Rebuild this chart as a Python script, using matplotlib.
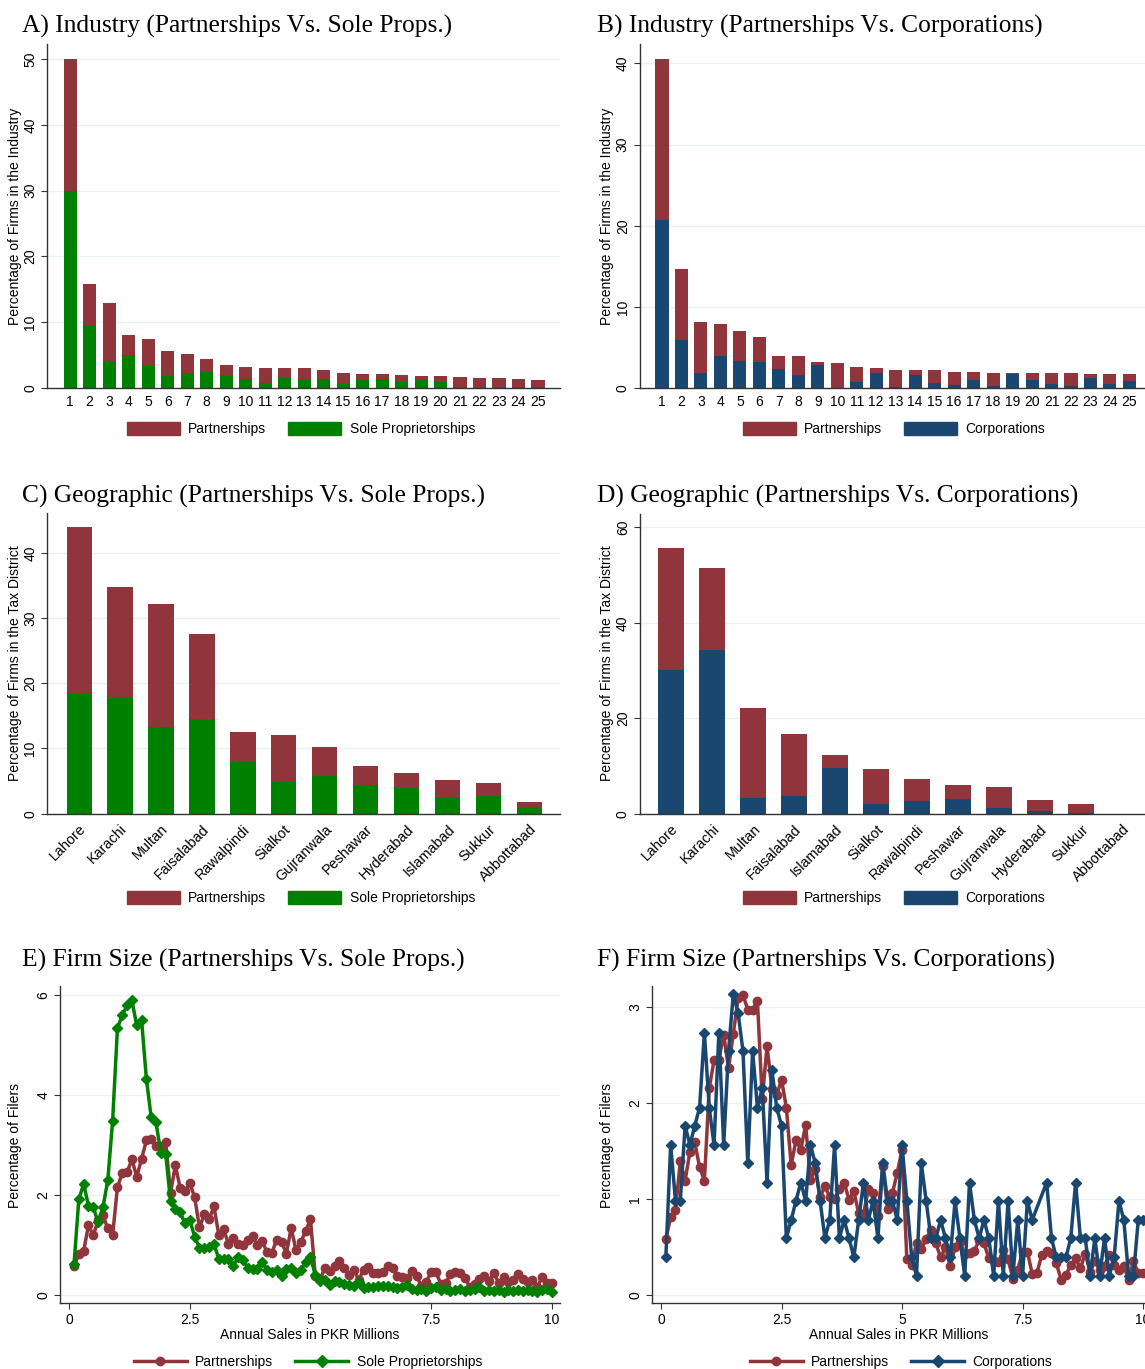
import numpy as np
import matplotlib
matplotlib.use("Agg")
import matplotlib.pyplot as plt
from matplotlib.patches import Patch
from matplotlib.lines import Line2D

plt.rcParams['font.family'] = ['Liberation Sans', 'DejaVu Sans']
plt.rcParams['font.size'] = 10

RED = '#90353B'
GREEN = '#008000'
NAVY = '#1A476F'
GRID = '#EAF2F3'
AXC = '#333333'

# industry shares (industries ranked 1..25)
industries = [str(i) for i in range(1, 26)]
sole_ind = [30.0, 9.5, 4.0, 5.06, 3.54, 1.92, 2.23, 2.43, 1.92, 1.42, 0.71, 1.52, 1.27,
            1.42, 0.71, 1.16, 1.42, 0.91, 1.16, 0.86, 0.05, 0.05, 0.2, 0.15, 0.1]
part_ind_a = [20.0, 6.3, 8.9, 3.0, 3.9, 3.7, 3.0, 2.03, 1.62, 1.77, 2.38, 1.57, 1.82,
              1.31, 1.57, 1.02, 0.71, 1.12, 0.71, 0.91, 1.57, 1.47, 1.32, 1.27, 1.17]
corp_ind = [20.7, 5.95, 1.85, 4.02, 3.36, 3.28, 2.42, 1.64, 2.87, 0.08, 0.82, 1.93, 0.16,
            1.6, 0.62, 0.41, 1.07, 0.33, 1.76, 0.98, 0.53, 0.29, 1.23, 0.57, 0.94]
part_ind_b = [19.9, 8.75, 6.31, 3.86, 3.7, 3.04, 1.6, 2.34, 0.37, 3.04, 1.81, 0.57, 2.1,
              0.66, 1.6, 1.64, 0.9, 1.6, 0.17, 0.95, 1.4, 1.64, 0.57, 1.23, 0.78]

# tax district shares
districts_c = ['Lahore', 'Karachi', 'Multan', 'Faisalabad', 'Rawalpindi', 'Sialkot',
               'Gujranwala', 'Peshawar', 'Hyderabad', 'Islamabad', 'Sukkur', 'Abbottabad']
sole_dist = [18.55, 17.83, 13.3, 14.5, 7.9, 4.9, 5.8, 4.45, 4.0, 2.45, 2.76, 0.92]
part_dist_c = [25.45, 16.97, 18.8, 13.1, 4.7, 7.1, 4.5, 2.85, 2.3, 2.65, 2.0, 0.88]
districts_d = ['Lahore', 'Karachi', 'Multan', 'Faisalabad', 'Islamabad', 'Sialkot',
               'Rawalpindi', 'Peshawar', 'Gujranwala', 'Hyderabad', 'Sukkur', 'Abbottabad']
corp_dist = [30.1, 34.4, 3.36, 3.7, 9.65, 2.1, 2.6, 3.08, 1.26, 0.63, 0.14, 0.0]
part_dist_d = [25.5, 17.1, 18.7, 13.1, 2.65, 7.2, 4.67, 2.86, 4.4, 2.24, 1.96, 0.0]

# firm size distribution, sales bins of 0.1m PKR
sales = np.round(np.arange(1, 101) * 0.1, 1)
part_size = [0.58, 0.81, 0.88, 1.39, 1.19, 1.49, 1.59, 1.33, 1.19, 2.15,
             2.44, 2.45, 2.71, 2.36, 2.72, 3.09, 3.12, 2.97, 2.97, 3.06,
             2.04, 2.59, 2.14, 2.08, 2.24, 1.95, 1.35, 1.61, 1.51, 1.77,
             1.2, 1.31, 1.02, 1.13, 1.02, 1.0, 1.1, 1.17, 0.99, 1.08,
             0.85, 0.84, 1.1, 1.06, 0.82, 1.34, 0.89, 1.06, 1.27, 1.51,
             0.37, 0.31, 0.54, 0.48, 0.58, 0.68, 0.54, 0.39, 0.5, 0.3,
             0.5, 0.55, 0.43, 0.44, 0.46, 0.57, 0.54, 0.38, 0.35, 0.34,
             0.47, 0.37, 0.17, 0.26, 0.45, 0.45, 0.22, 0.23, 0.42, 0.46,
             0.44, 0.33, 0.16, 0.21, 0.31, 0.38, 0.28, 0.43, 0.24, 0.35,
             0.26, 0.3, 0.42, 0.31, 0.26, 0.3, 0.16, 0.35, 0.23, 0.23]
sole_size = [0.61, 1.91, 2.22, 1.78, 1.75, 1.45, 1.75, 2.29, 3.48, 5.33,
             5.6, 5.79, 5.89, 5.39, 5.5, 4.32, 3.55, 3.45, 2.83, 2.82,
             1.88, 1.72, 1.65, 1.43, 1.5, 1.16, 0.94, 0.94, 0.96, 1.02,
             0.72, 0.72, 0.71, 0.58, 0.75, 0.7, 0.54, 0.51, 0.52, 0.66,
             0.49, 0.45, 0.49, 0.38, 0.52, 0.53, 0.44, 0.5, 0.65, 0.76,
             0.39, 0.27, 0.29, 0.2, 0.28, 0.26, 0.22, 0.2, 0.18, 0.25,
             0.14, 0.16, 0.15, 0.18, 0.17, 0.17, 0.15, 0.13, 0.15, 0.2,
             0.12, 0.1, 0.12, 0.08, 0.13, 0.15, 0.1, 0.12, 0.08, 0.1,
             0.12, 0.07, 0.1, 0.12, 0.15, 0.08, 0.1, 0.07, 0.1, 0.05,
             0.1, 0.08, 0.1, 0.07, 0.1, 0.08, 0.05, 0.1, 0.12, 0.06]
corp_size = [0.39, 1.56, 0.98, 0.98, 1.76, 1.56, 1.76, 1.95, 2.73, 1.95,
             1.56, 2.73, 1.56, 2.54, 3.13, 2.93, 2.54, 1.37, 2.54, 1.95,
             2.15, 1.17, 2.34, 1.95, 1.76, 0.59, 0.78, 0.98, 1.17, 0.98,
             1.56, 1.37, 0.98, 0.59, 0.78, 1.56, 0.59, 0.78, 0.59, 0.39,
             0.78, 1.17, 0.78, 0.98, 0.59, 1.37, 0.98, 0.98, 0.78, 1.56,
             0.98, 0.39, 0.2, 1.37, 0.98, 0.59, 0.59, 0.78, 0.59, 0.39,
             0.98, 0.59, 0.2, 1.17, 0.78, 0.59, 0.78, 0.59, 0.2, 0.98,
             0.2, 0.98, 0.2, 0.78, 0.2, 0.98, 0.78, None, None, 1.17,
             0.59, 0.39, 0.39, 0.39, 0.59, 1.17, 0.59, 0.59, 0.2, 0.59,
             0.2, 0.59, 0.2, 0.39, 0.98, 0.78, 0.2, 0.2, 0.78, 0.78]

W, H = 1145, 1369
fig = plt.figure(figsize=(W / 100, H / 100), dpi=100)


def px_axes(x0, y0, x1, y1):
    return fig.add_axes([x0 / W, 1 - y1 / H, (x1 - x0) / W, (y1 - y0) / H])


def style(ax, yticks, ylim, xlim):
    ax.set_ylim(*ylim)
    ax.set_xlim(*xlim)
    ax.set_yticks(yticks)
    ax.set_yticklabels([str(t) for t in yticks], rotation=90, va='center')
    for s in ['top', 'right']:
        ax.spines[s].set_visible(False)
    for s in ['left', 'bottom']:
        ax.spines[s].set_color(AXC)
        ax.spines[s].set_linewidth(1.0)
    ax.tick_params(axis='y', length=4, color=AXC, pad=3, labelsize=10)
    ax.grid(axis='y', color=GRID, linewidth=1.0)
    ax.set_axisbelow(True)


def title(x, y, s):
    fig.text(x / W, 1 - y / H, s, family='Liberation Serif', fontsize=18.4,
             ha='left', va='center')


def ylab(x, y, s):
    fig.text(x / W, 1 - y / H, s, rotation=90, ha='center', va='center', fontsize=10)


def bar_legend(ax, cx, cy, other_color, other_name):
    handles = [Patch(facecolor=RED, edgecolor=RED), Patch(facecolor=other_color, edgecolor=other_color)]
    ax.legend(handles, ['Partnerships', other_name], loc='center', ncol=2,
              bbox_to_anchor=(cx / W, 1 - cy / H), bbox_transform=fig.transFigure,
              frameon=False, handlelength=3.8, handleheight=1.1, handletextpad=0.6,
              columnspacing=1.6, fontsize=10)


def line_legend(ax, cx, cy, other_color, other_name):
    handles = [Line2D([], [], color=RED, lw=2.5, marker='o', ms=6),
               Line2D([], [], color=other_color, lw=2.5, marker='D', ms=6)]
    ax.legend(handles, ['Partnerships', other_name], loc='center', ncol=2,
              bbox_to_anchor=(cx / W, 1 - cy / H), bbox_transform=fig.transFigure,
              frameon=False, handlelength=3.8, handletextpad=0.6,
              columnspacing=1.6, fontsize=10)


# A) industry, partnerships vs sole props
ax = px_axes(47, 44, 560, 388)
pos = np.arange(1, 26)
ax.bar(pos, sole_ind, 0.67, color=GREEN)
ax.bar(pos, part_ind_a, 0.67, bottom=sole_ind, color=RED)
style(ax, [0, 10, 20, 30, 40, 50], (0, 52.3), (-0.19, 26.13))
ax.set_xticks(pos)
ax.set_xticklabels(industries)
ax.tick_params(axis='x', length=0, pad=5, labelsize=10)
bar_legend(ax, 301, 429, GREEN, 'Sole Proprietorships')
title(22, 26, 'A) Industry (Partnerships Vs. Sole Props.)')
ylab(15, 216, 'Percentage of Firms in the Industry')

# B) industry, partnerships vs corporations
ax = px_axes(639.5, 44, 1145, 388.3)
ax.bar(pos, corp_ind, 0.67, color=NAVY)
ax.bar(pos, part_ind_b, 0.67, bottom=corp_ind, color=RED)
style(ax, [0, 10, 20, 30, 40], (0, 42.4), (-0.155, 25.8))
ax.set_xticks(pos)
ax.set_xticklabels(industries)
ax.tick_params(axis='x', length=0, pad=5, labelsize=10)
bar_legend(ax, 894, 429, NAVY, 'Corporations')
title(597, 26, 'B) Industry (Partnerships Vs. Corporations)')
ylab(607, 216, 'Percentage of Firms in the Industry')

# C) districts, partnerships vs sole props
ax = px_axes(47, 513, 560, 813.7)
pos_c = np.arange(len(districts_c))
ax.bar(pos_c, sole_dist, 0.62, color=GREEN)
ax.bar(pos_c, part_dist_c, 0.62, bottom=sole_dist, color=RED)
style(ax, [0, 10, 20, 30, 40], (0, 46.1), (-0.787, 11.75))
ax.set_xticks(pos_c)
ax.set_xticklabels(districts_c, rotation=45, ha='right', va='top', rotation_mode='anchor')
ax.tick_params(axis='x', length=0, pad=6, labelsize=10.4)
bar_legend(ax, 301, 898, GREEN, 'Sole Proprietorships')
title(22, 496, 'C) Geographic (Partnerships Vs. Sole Props.)')
ylab(15, 663, 'Percentage of Firms in the Tax District')

# D) districts, partnerships vs corporations
ax = px_axes(639.5, 514, 1145, 813.7)
pos_d = np.arange(len(districts_d))
ax.bar(pos_d, corp_dist, 0.63, color=NAVY)
ax.bar(pos_d, part_dist_d, 0.63, bottom=corp_dist, color=RED)
style(ax, [0, 20, 40, 60], (0, 62.8), (-0.774, 11.56))
ax.set_xticks(pos_d)
ax.set_xticklabels(districts_d, rotation=45, ha='right', va='top', rotation_mode='anchor')
ax.tick_params(axis='x', length=0, pad=6, labelsize=10.4)
bar_legend(ax, 894, 898, NAVY, 'Corporations')
title(597, 496, 'D) Geographic (Partnerships Vs. Corporations)')
ylab(607, 663, 'Percentage of Firms in the Tax District')

# E) firm size, partnerships vs sole props
ax = px_axes(60, 986, 560, 1303.3)
ax.plot(sales, part_size, color=RED, lw=2.5, marker='o', ms=6, zorder=3)
ax.plot(sales, sole_size, color=GREEN, lw=2.5, marker='D', ms=5.5, zorder=4)
style(ax, [0, 2, 4, 6], (-0.17, 6.18), (-0.19, 10.17))
ax.set_xticks([0, 2.5, 5, 7.5, 10])
ax.set_xticklabels(['0', '2.5', '5', '7.5', '10'])
ax.tick_params(axis='x', length=4, color=AXC, pad=3, labelsize=10)
ax.set_xlabel('Annual Sales in PKR Millions', fontsize=10, labelpad=1)
line_legend(ax, 308, 1362, GREEN, 'Sole Proprietorships')
title(22, 960, 'E) Firm Size (Partnerships Vs. Sole Props.)')
ylab(15, 1145, 'Percentage of Filers')

# F) firm size, partnerships vs corporations (empty bins skipped)
ax = px_axes(652, 986, 1145, 1303.3)
corp_arr = np.array([np.nan if v is None else v for v in corp_size])
ok = ~np.isnan(corp_arr)
ax.plot(sales, part_size, color=RED, lw=2.5, marker='o', ms=6, zorder=3)
ax.plot(sales[ok], corp_arr[ok], color=NAVY, lw=2.5, marker='D', ms=5.5, zorder=4)
style(ax, [0, 1, 2, 3], (-0.087, 3.215), (-0.187, 10.04))
ax.set_xticks([0, 2.5, 5, 7.5, 10])
ax.set_xticklabels(['0', '2.5', '5', '7.5', '10'])
ax.tick_params(axis='x', length=4, color=AXC, pad=3, labelsize=10)
ax.set_xlabel('Annual Sales in PKR Millions', fontsize=10, labelpad=1)
line_legend(ax, 901, 1362, NAVY, 'Corporations')
title(597, 960, 'F) Firm Size (Partnerships Vs. Corporations)')
ylab(607, 1145, 'Percentage of Filers')

fig.savefig('out.png', dpi=100)
